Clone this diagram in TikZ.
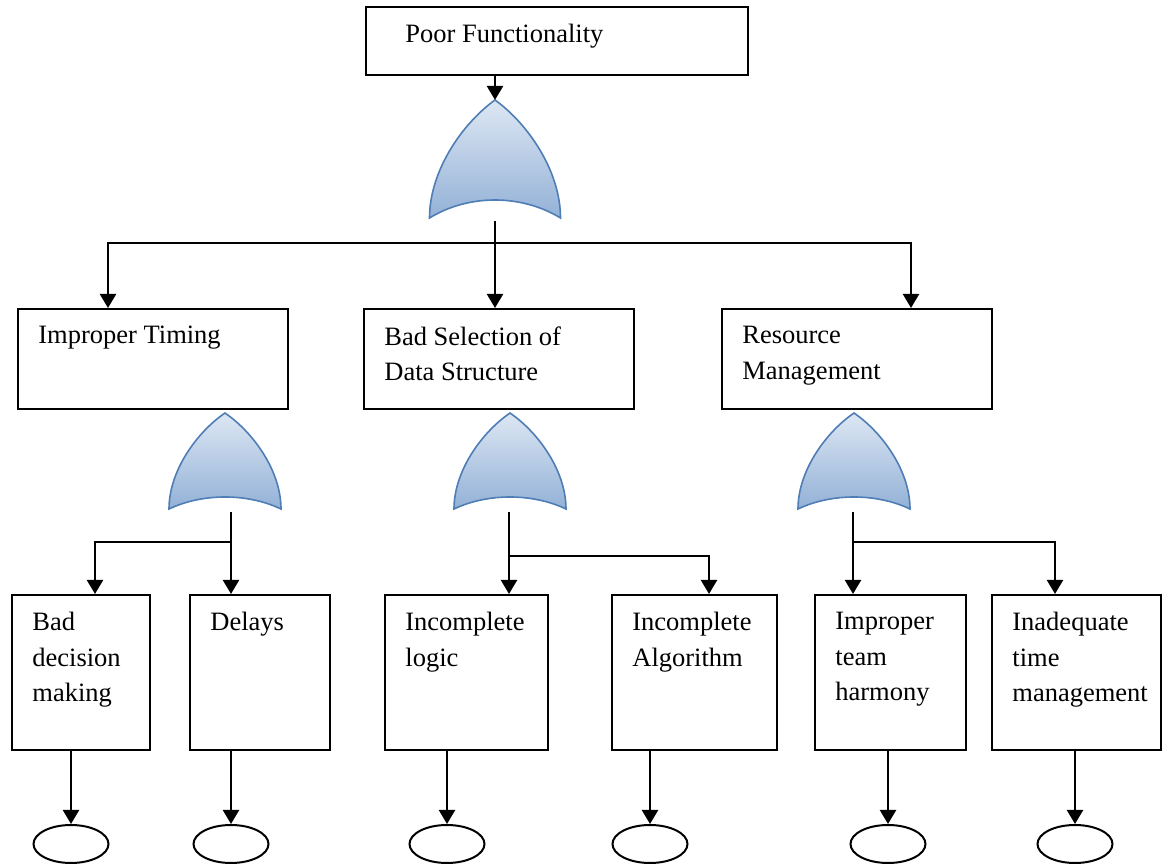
\documentclass[tikz,border=0pt]{standalone}
\usepackage{fontspec}
\setmainfont{Liberation Serif}
\usetikzlibrary{positioning,arrows.meta,shapes}

\definecolor{gateedge}{HTML}{4F7DB5}
\definecolor{gatetop}{HTML}{DDE7F3}
\definecolor{gatebot}{HTML}{93B1D7}

\tikzset{
	box/.style={draw, line width=1.1pt, anchor=north west, inner sep=0pt},
	lbl/.style={anchor=north west, align=left, inner sep=0pt, font=\fontsize{13.25}{17.75}\selectfont},
	arr/.style={line width=1.1pt, -{Triangle[width=8pt,length=7pt]}},
	leaf/.style={draw, ellipse, line width=1pt, minimum width=37.5pt, minimum height=19pt, inner sep=0pt},
	pics/orgate/.style args={#1/#2/#3}{code={
		\path[draw=gateedge, line width=0.8pt, top color=gatetop, bottom color=gatebot]
		(-#1/2,#2) .. controls (-#1/2,0.6*#2) and (-#1/4,0.2*#2) .. (0,0)
		.. controls (#1/4,0.2*#2) and (#1/2,0.6*#2) .. (#1/2,#2)
		.. controls (#1/5,#2-#3*4/3) and (-#1/5,#2-#3*4/3) .. cycle;
		\coordinate (-in) at (0,0);
		\coordinate (-out) at (0,#2+3);
	}}
}

\begin{document}
\begin{tikzpicture}[x=0.5pt, y=-0.5pt]
		
		\useasboundingbox (0,0) rectangle (1168,865);
		
		% top event
		\node[box, minimum width=191pt, minimum height=34pt] (top) at (365,6) {};
		\node[lbl] (top-t) at ([xshift=20pt,yshift=-9pt]top.north west) {Poor Functionality};
		\pic (g0) at (495,100) {orgate=131/118/18};
		\draw[arr] (top.south -| g0-in) -- (g0-in);
		
		% second level
		\foreach \nm/\x/\ix/\txt in {tim/17/108/{Improper Timing}, sel/363/495/{Bad Selection of\\Data Structure}, res/721/911/{Resource\\Management}}
		{
			\node[box, minimum width=135pt, minimum height=50pt] (\nm) at (\x,308) {};
			\node[lbl] (\nm-t) at ([xshift=10.5pt,yshift=-9pt]\nm.north west) {\txt};
			\coordinate (\nm-in) at (\ix,308);
		}
		\coordinate (j0) at (495,243);
		\draw[arr] (g0-out) -- (sel-in);
		\draw[arr] (j0) -| (tim-in);
		\draw[arr] (j0) -| (res-in);
		
		\pic (g1) at (225,413) {orgate=112/96/12};
		\pic (g2) at (510,413) {orgate=112/96/12};
		\pic (g3) at (854,413) {orgate=112/96/12};
		
		% basic events
		\foreach \nm/\x/\w/\ix/\ox/\txt in {bdm/11/138/95/71/{Bad\\decision\\making}, del/189/140/231/231/{Delays}, inl/384/163/509/447/{Incomplete\\logic}, ina/611/165/709/650/{Incomplete\\Algorithm}, ith/814/151/853/888/{Improper\\team\\harmony}, itm/991/169/1055/1075/{Inadequate\\time\\management}}
		{
			\node[box, minimum width=\w*0.5pt, minimum height=77.5pt] (\nm) at (\x,594) {};
			\node[lbl] (\nm-t) at ([xshift=10.5pt,yshift=-9pt]\nm.north west) {\txt};
			\coordinate (\nm-in) at (\ix,594);
			\node[leaf] (\nm-e) at (\ox,844) {};
			\draw[arr] (\nm.south -| \nm-e) -- (\nm-e.north);
		}
		
		\coordinate (j1) at (231,542);
		\coordinate (j2) at (509,556);
		\coordinate (j3) at (853,542);
		\draw[arr] (g1-out -| del-in) -- (del-in);
		\draw[arr] (j1) -| (bdm-in);
		\draw[arr] (g2-out -| inl-in) -- (inl-in);
		\draw[arr] (j2) -| (ina-in);
		\draw[arr] (g3-out -| ith-in) -- (ith-in);
		\draw[arr] (j3) -| (itm-in);
		
\end{tikzpicture}
\end{document}
